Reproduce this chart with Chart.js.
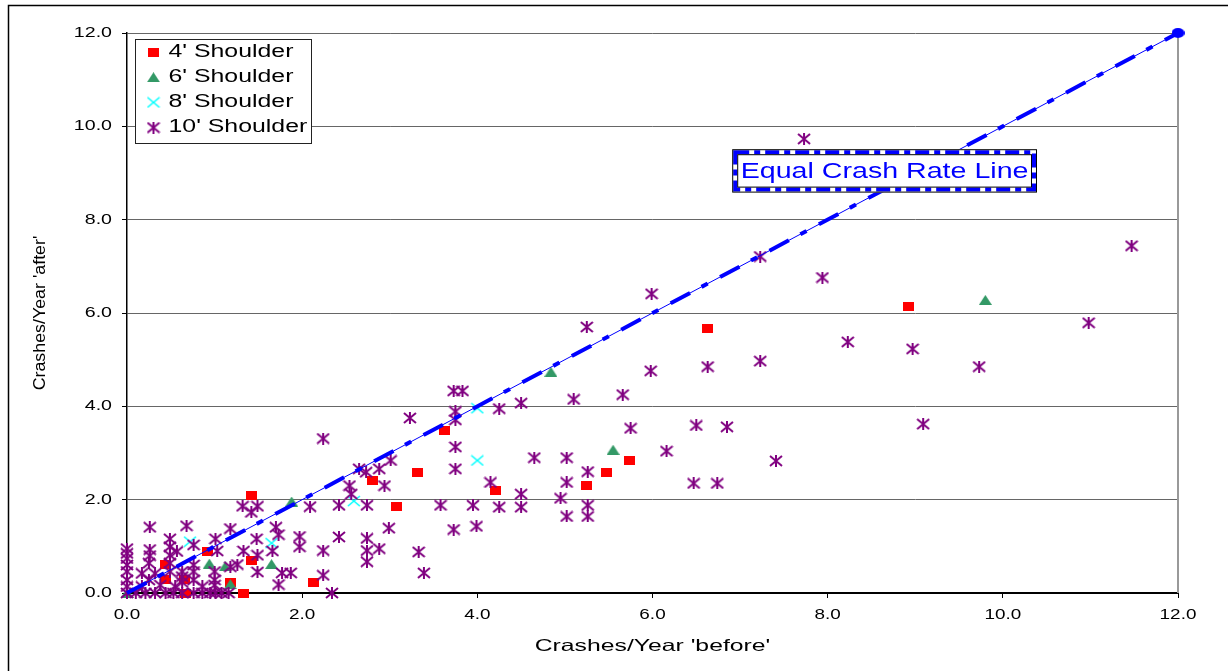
<!DOCTYPE html>
<html>
<head>
<meta charset="utf-8">
<script src="https://cdn.jsdelivr.net/npm/chart.js@4.4.0/dist/chart.umd.min.js"></script>
<style>
  html, body { margin: 0; padding: 0; background: #fff; }
</style>
</head>
<body>
<canvas id="crashChart" width="1228" height="671"></canvas>
<script>
// Series names and axis ticks
const seriesNames = ["4' Shoulder", "6' Shoulder", "8' Shoulder", "10' Shoulder"];
const tickValues = [0, 2, 4, 6, 8, 10, 12];
const xTitle = "Crashes/Year 'before'";
const yTitle = "Crashes/Year 'after'";
const lineLabel = 'Equal Crash Rate Line';

// [before, after] crash rates
const shoulder4 = [
  [0.44, 0.62], [0.44, 0.28], [0.66, 0.28], [0.67, 0], [0.92, 0.88], [1.18, 0.23],
  [1.33, 0], [1.42, 2.08], [1.42, 0.70], [2.13, 0.23], [2.80, 2.41], [3.08, 1.86],
  [3.32, 2.59], [3.63, 3.48], [4.21, 2.19], [5.25, 2.31], [5.47, 2.59], [5.74, 2.83],
  [6.63, 5.67], [8.92, 6.13]
];
const shoulder6 = [
  [0, 0], [0.94, 0.63], [1.12, 0.57], [1.18, 0.19], [1.65, 0.62], [1.88, 1.96],
  [4.84, 4.74], [5.55, 3.07], [9.80, 6.28]
];
const shoulder8 = [
  [0.72, 1.10], [1.65, 1.07], [2.59, 1.97], [4.00, 2.84], [4.00, 3.96]
];
const shoulder10 = [
  [0, 0], [0, 0.14], [0, 0.28], [0, 0.46], [0, 0.60], [0, 0.74], [0, 0.85], [0, 0.95],
  [0.10, 0], [0.21, 0], [0.32, 0], [0.44, 0], [0.53, 0], [0.63, 0], [0.76, 0], [0.86, 0],
  [0.95, 0], [1.01, 0], [1.08, 0], [1.16, 0], [2.34, 0],
  [0.26, 1.41], [0.68, 1.44], [0.49, 1.16], [0.26, 0.93], [0.26, 0.80], [0.25, 0.64],
  [0.49, 0.99], [0.49, 0.81], [0.49, 0.64], [0.49, 0.46], [0.57, 0.89], [0.76, 1.03],
  [0.76, 0.60], [0.76, 0.46], [0.76, 0.28], [1.01, 1.16], [1.03, 0.90], [1.00, 0.46],
  [1.00, 0.28], [1.00, 0.17], [1.18, 1.38], [1.18, 0.56], [1.33, 0.90], [1.26, 0.61],
  [1.48, 1.16], [1.49, 0.81], [1.49, 0.45], [1.66, 0.90], [1.70, 1.41], [1.32, 1.86],
  [1.49, 1.86], [1.42, 1.73], [0.17, 0.42], [0.32, 0.42], [0.63, 0.46], [0.63, 0.35],
  [0.25, 0.28], [0.17, 0.14], [0.38, 0.17], [0.55, 0.14], [0.86, 0.14], [0.63, 0.23],
  [1.73, 1.25], [1.97, 1.21], [1.97, 0.99], [1.77, 0.43], [1.87, 0.43], [1.73, 0.18],
  [2.09, 1.85], [2.24, 3.31], [2.24, 0.91], [2.24, 0.38], [2.42, 1.88], [2.42, 1.20],
  [2.54, 2.30], [2.56, 2.12], [2.65, 2.66], [2.73, 2.59], [2.74, 1.88], [2.74, 1.17],
  [2.74, 0.91], [2.74, 0.67], [2.88, 2.66], [2.88, 0.95], [2.94, 2.30], [2.99, 1.39],
  [3.01, 2.84], [3.23, 3.75], [3.33, 0.88], [3.39, 0.43], [3.58, 1.88], [3.73, 4.33],
  [3.83, 4.33], [3.75, 3.89], [3.75, 3.71], [3.75, 3.13], [3.75, 2.66], [3.73, 1.36],
  [3.95, 1.88], [3.99, 1.43], [4.15, 2.37], [4.25, 3.95], [4.25, 1.84], [4.50, 4.07],
  [4.50, 2.12], [4.50, 1.84], [4.65, 2.90], [4.95, 2.03], [5.02, 2.90], [5.02, 2.37],
  [5.02, 1.64], [5.10, 4.15], [5.26, 2.60], [5.26, 1.88], [5.26, 1.64], [5.66, 4.25],
  [5.75, 3.53],
  [5.25, 5.70], [5.98, 4.76], [5.99, 6.41], [6.16, 3.04], [6.47, 2.35], [6.50, 3.59],
  [6.63, 4.85], [6.74, 2.35], [6.85, 3.56], [7.23, 4.97], [7.23, 7.21], [7.41, 2.83],
  [7.73, 9.73], [7.94, 6.76], [8.23, 5.38], [8.97, 5.23], [9.09, 3.62], [9.73, 4.85],
  [10.98, 5.79], [11.47, 7.44]
];
const equalLine = [[0, 0], [12, 12]];

// where the line label box sits, in axis units
const labelBox = { x0: 6.91, x1: 10.39, y0: 8.58, y1: 9.51 };

const FONT = "'Liberation Sans', Arial, sans-serif";

// marker pictures (the original markers are a little wider than tall)
function makeMarker(w, h, draw) {
  const c = document.createElement('canvas');
  c.width = w;
  c.height = h;
  draw(c.getContext('2d'), w, h);
  return c;
}
const squareMark = makeMarker(11, 9, (g, w, h) => {
  g.fillStyle = '#ff0000';
  g.fillRect(0, 0, w, h);
});
const triangleMark = makeMarker(13, 10, (g, w, h) => {
  g.fillStyle = '#339966';
  g.beginPath();
  g.moveTo(w / 2, 0);
  g.lineTo(w, h);
  g.lineTo(0, h);
  g.closePath();
  g.fill();
});
const crossMark = makeMarker(14, 12, (g, w, h) => {
  g.strokeStyle = '#00ffff';
  g.lineWidth = 1.6;
  g.beginPath();
  g.moveTo(1, 1); g.lineTo(w - 1, h - 1);
  g.moveTo(1, h - 1); g.lineTo(w - 1, 1);
  g.stroke();
});
const starMark = makeMarker(14, 12, (g, w, h) => {
  g.strokeStyle = '#800080';
  g.lineWidth = 2;
  g.beginPath();
  g.moveTo(1, 1); g.lineTo(w - 1, h - 1);
  g.moveTo(1, h - 1); g.lineTo(w - 1, 1);
  g.moveTo(w / 2, 0); g.lineTo(w / 2, h);
  g.stroke();
});
const dotMark = makeMarker(13, 10, (g, w, h) => {
  g.fillStyle = '#0000ff';
  g.beginPath();
  g.ellipse(w / 2, h / 2, w / 2, h / 2, 0, 0, Math.PI * 2);
  g.fill();
});
const markers = [squareMark, triangleMark, crossMark, starMark];

const toXY = arr => arr.map(p => ({ x: p[0], y: p[1] }));

// text stretched sideways like the source picture
function drawText(ctx, text, x, y, o) {
  ctx.save();
  ctx.font = o.font;
  ctx.fillStyle = o.color || '#000';
  ctx.textAlign = o.align || 'left';
  ctx.textBaseline = o.baseline || 'middle';
  ctx.translate(x, y);
  if (o.rotate) ctx.rotate(o.rotate);
  ctx.scale(o.sx || 1, 1);
  ctx.fillText(text, 0, 0);
  ctx.restore();
}

const framePlugin = {
  id: 'frame',
  beforeDraw(chart) {
    const ctx = chart.ctx;
    ctx.save();
    ctx.fillStyle = '#fff';
    ctx.fillRect(0, 0, chart.width, chart.height);
    ctx.restore();
  },
  beforeDatasetsDraw(chart) {
    const { ctx, chartArea: ca } = chart;
    ctx.save();
    ctx.strokeStyle = '#999';
    ctx.lineWidth = 2;
    ctx.beginPath();
    ctx.moveTo(ca.right, ca.top);
    ctx.lineTo(ca.right, ca.bottom);
    ctx.stroke();
    ctx.restore();
  },
  afterDatasetsDraw(chart) {
    const { ctx, chartArea: ca } = chart;
    const xs = chart.scales.x, ys = chart.scales.y;

    // label box for the equal rate line
    const L = xs.getPixelForValue(labelBox.x0), R = xs.getPixelForValue(labelBox.x1);
    const T = ys.getPixelForValue(labelBox.y1), B = ys.getPixelForValue(labelBox.y0);
    ctx.save();
    ctx.fillStyle = '#fff';
    ctx.fillRect(L, T, R - L, B - T);
    ctx.strokeStyle = '#0000ff';
    ctx.lineWidth = 4;
    ctx.setLineDash([14, 5, 6, 5]);
    ctx.strokeRect(L + 3, T + 3, R - L - 6, B - T - 6);
    ctx.setLineDash([]);
    ctx.strokeStyle = '#000';
    ctx.lineWidth = 1;
    ctx.strokeRect(L + 0.5, T + 0.5, R - L - 1, B - T - 1);
    ctx.strokeRect(L + 5.5, T + 5.5, R - L - 11, B - T - 11);
    ctx.restore();
    drawText(ctx, lineLabel, (L + R) / 2, T + 28.5,
      { font: '22px ' + FONT, color: '#0000ff', align: 'center', baseline: 'alphabetic', sx: 1.3 });

    // legend box
    const lx = ca.left + 8, ly = ca.top + 6;
    ctx.save();
    ctx.fillStyle = '#fff';
    ctx.fillRect(lx, ly, 176, 104);
    ctx.strokeStyle = '#222';
    ctx.lineWidth = 1;
    ctx.strokeRect(lx + 0.5, ly + 0.5, 176, 104);
    seriesNames.forEach((name, i) => {
      const ry = ly + 13 + i * 25.2;
      const m = markers[i];
      ctx.drawImage(m, lx + 18.5 - m.width / 2, ry - m.height / 2);
      drawText(ctx, name, lx + 33.5, ry, { font: '17.5px ' + FONT, sx: 1.42 });
    });
    ctx.restore();
  },
  afterDraw(chart) {
    const { ctx, chartArea: ca } = chart;
    const xs = chart.scales.x, ys = chart.scales.y;
    const tickFont = '14px ' + FONT;
    tickValues.forEach(v => {
      drawText(ctx, v.toFixed(1), ca.left - 15, ys.getPixelForValue(v),
        { font: tickFont, align: 'right', sx: 1.4 });
      drawText(ctx, v.toFixed(1), xs.getPixelForValue(v), ca.bottom + 22,
        { font: tickFont, align: 'center', sx: 1.35 });
    });
    drawText(ctx, xTitle, (ca.left + ca.right) / 2, 646,
      { font: '16.5px ' + FONT, align: 'center', sx: 1.5 });
    drawText(ctx, yTitle, 40, (ca.top + ca.bottom) / 2,
      { font: '16.5px ' + FONT, align: 'center', rotate: -Math.PI / 2, sx: 1.08 });

    // outer frame of the picture
    ctx.save();
    ctx.strokeStyle = '#000';
    ctx.lineWidth = 1.5;
    ctx.beginPath();
    ctx.moveTo(8.5, chart.height);
    ctx.lineTo(8.5, 5.5);
    ctx.lineTo(chart.width, 5.5);
    ctx.stroke();
    ctx.restore();
  }
};

const pointSet = (i, data, order) => ({
  label: seriesNames[i],
  data: toXY(data),
  pointStyle: markers[i],
  pointRadius: 6,
  pointHoverRadius: 6,
  clip: false,
  order: order
});

const crashChart = new Chart(
  document.getElementById('crashChart'),
  {
    type: 'scatter',
    data: {
      datasets: [
        {
          type: 'line',
          label: 'equal dashes',
          data: toXY(equalLine),
          borderColor: '#0000ff',
          borderWidth: 4,
          borderDash: [22, 13, 7, 14],
          pointRadius: 0,
          clip: false,
          order: 0
        },
        {
          type: 'line',
          label: 'equal line',
          data: toXY(equalLine),
          borderColor: '#0000ff',
          borderWidth: 1,
          pointStyle: dotMark,
          pointRadius: [0, 6],
          clip: false,
          order: 1
        },
        pointSet(3, shoulder10, 2),
        pointSet(2, shoulder8, 3),
        pointSet(1, shoulder6, 4),
        pointSet(0, shoulder4, 5)
      ]
    },
    options: {
      responsive: false,
      devicePixelRatio: 1,
      animation: false,
      layout: { padding: { top: 33, right: 50, left: 0, bottom: 0 } },
      plugins: {
        legend: { display: false },
        tooltip: { enabled: false }
      },
      scales: {
        x: {
          type: 'linear',
          min: 0,
          max: 12,
          afterBuildTicks: scale => { scale.ticks = tickValues.map(v => ({ value: v })); },
          afterFit: scale => { scale.height = 78; },
          ticks: { display: false },
          grid: { drawOnChartArea: false, drawTicks: true, tickLength: 5, color: '#000' },
          border: { color: '#000', width: 2 }
        },
        y: {
          type: 'linear',
          min: 0,
          max: 12,
          afterBuildTicks: scale => { scale.ticks = tickValues.map(v => ({ value: v })); },
          afterFit: scale => { scale.width = 127; },
          ticks: { display: false },
          grid: { color: '#666', tickColor: '#000', drawTicks: true, tickLength: 5 },
          border: { color: '#000', width: 1.5 }
        }
      }
    },
    plugins: [framePlugin]
  }
);
</script>
</body>
</html>
